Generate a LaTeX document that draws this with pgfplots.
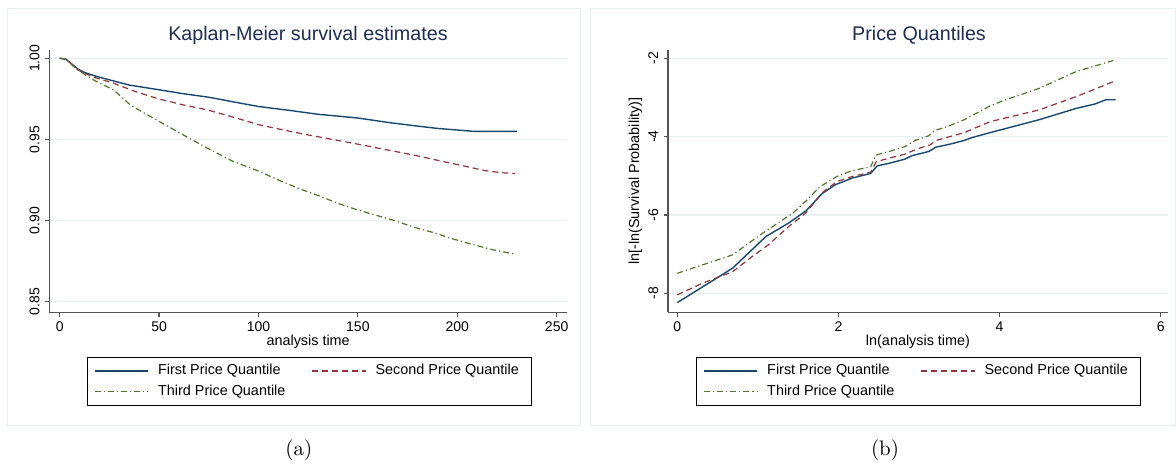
\documentclass[border=0pt]{standalone}
\usepackage{pgfplots}
\pgfplotsset{compat=1.18}
\usepackage{fontspec}
\newfontfamily\hv{Liberation Sans}
\definecolor{stnavy}{RGB}{26,71,111}
\definecolor{stmaroon}{RGB}{144,53,59}
\definecolor{stgreen}{RGB}{85,117,47}
\definecolor{stgrid}{RGB}{232,240,241}
\definecolor{sttitle}{RGB}{30,45,80}
\definecolor{staxis}{RGB}{85,85,85}

\pgfplotsset{
  statabase/.style={
    scale only axis, height=131.15pt,
    axis lines*=left,
    axis line style={-, draw=staxis, line width=0.6pt},
    tick align=outside, major tick length=2.2pt,
    major tick style={draw=staxis, line width=0.6pt},
    ymajorgrids, grid style={draw=stgrid, line width=0.6pt},
    tick label style={font=\hv\fontsize{7}{8}\selectfont, text=black},
    /pgf/number format/assume math mode=true,
    yticklabel style={rotate=90, anchor=south, inner sep=2.5pt},
    xticklabel style={inner sep=2.2pt},
    label style={font=\hv\fontsize{7.2}{8.6}\selectfont, text=black},
    xlabel style={at={(axis description cs:0.5,-0.113)}, anchor=center},
    legend cell align=left,
    legend image code/.code={\draw[##1] (0pt,0pt) -- (26.7pt,0pt);},
    legend style={anchor=north west, draw=black, line width=0.5pt,
      inner xsep=3.25pt, inner ysep=3.3pt,
      font=\hv\fontsize{7.2}{8.6}\selectfont,
      legend columns=2, row sep=3.55pt,
      nodes={inner sep=0pt, text height=5.3pt, text depth=1.5pt},
      /tikz/every odd column/.append style={column sep=4.7pt}},
  },
  s1/.style={stnavy, line width=0.7pt, solid},
  s2/.style={stmaroon, line width=0.6pt, dash pattern=on 3pt off 2pt},
  s3/.style={stgreen, line width=0.6pt, dash pattern=on 3pt off 1.5pt on 0.6pt off 1.5pt},
}

\pgfplotstableread{
t S
0 1.000
3 0.9995
6 0.9965
9 0.9935
12 0.9915
18 0.9890
25 0.9867
35 0.9835
50 0.9806
62 0.9782
75 0.9760
88 0.9730
100 0.9703
115 0.9680
130 0.9655
150 0.9632
165 0.9605
178 0.9585
190 0.9568
200 0.9558
208 0.9550
230 0.9550
}\kmA
\pgfplotstableread{
t S
0 1.000
3 0.9995
6 0.9965
9 0.9930
12 0.9910
18 0.9880
27 0.9847
38 0.9795
50 0.9749
62 0.9713
74 0.9683
88 0.9635
100 0.9591
110 0.9565
121 0.9537
135 0.9505
150 0.9471
165 0.9435
178 0.9404
197 0.9353
214 0.9308
222 0.9295
229 0.9290
}\kmB
\pgfplotstableread{
t S
0 1.000
3 0.9995
6 0.9960
8 0.9939
12 0.9905
18 0.9860
27 0.9806
36 0.9708
50 0.9611
61 0.9536
74 0.9448
87 0.9366
100 0.9305
111 0.9245
121.5 0.9192
131 0.9150
140 0.9106
150 0.9065
160 0.9030
169 0.8998
178 0.8960
188 0.8926
197 0.8890
207 0.8855
218 0.8820
229 0.8793
}\kmC

\pgfplotstableread{
x y
0 -8.238
0.686 -7.36
1.10 -6.55
1.38 -6.21
1.60 -5.89
1.80 -5.45
1.96 -5.23
2.17 -5.06
2.40 -4.94
2.48 -4.75
2.63 -4.68
2.82 -4.58
2.91 -4.49
3.12 -4.38
3.21 -4.27
3.37 -4.20
3.56 -4.10
3.65 -4.03
3.88 -3.90
4.49 -3.57
4.95 -3.28
5.18 -3.17
5.32 -3.06
5.44 -3.06
}\llA
\pgfplotstableread{
x y
0 -8.04
0.315 -7.74
0.686 -7.45
0.917 -7.08
1.126 -6.77
1.38 -6.30
1.59 -5.96
1.80 -5.43
1.98 -5.15
2.17 -5.02
2.40 -4.91
2.47 -4.64
2.63 -4.55
2.82 -4.45
3.00 -4.30
3.14 -4.21
3.21 -4.10
3.56 -3.90
3.88 -3.62
4.49 -3.32
4.95 -2.98
5.41 -2.60
}\llB
\pgfplotstableread{
x y
0 -7.49
0.686 -7.02
1.056 -6.47
1.43 -5.96
1.61 -5.62
1.77 -5.28
1.98 -5.02
2.17 -4.87
2.40 -4.77
2.47 -4.47
2.63 -4.38
2.82 -4.26
2.96 -4.09
3.12 -3.98
3.19 -3.85
3.37 -3.73
3.56 -3.57
3.88 -3.22
4.07 -3.06
4.25 -2.94
4.49 -2.77
4.95 -2.34
5.41 -2.06
}\llC

\begin{document}
\begin{tikzpicture}
\useasboundingbox (0pt,0pt) rectangle (588pt,-232.5pt);
\fill[white] (0pt,0pt) rectangle (588pt,-232.5pt);
\draw[stgrid, line width=0.5pt] (3.5pt,-4.5pt) rectangle (290pt,-212.5pt);
\draw[stgrid, line width=0.5pt] (295pt,-4.5pt) rectangle (587.7pt,-212.5pt);

\begin{axis}[statabase,
  at={(24.65pt,-156.15pt)}, anchor=south west, width=258.85pt,
  xmin=-5.23, xmax=255.2, ymin=0.8435, ymax=1.0051,
  xtick={0,50,100,150,200,250},
  ytick={0.85,0.90,0.95,1.00}, yticklabels={0.85,0.90,0.95,1.00},
  xlabel={analysis time},
  legend style={at={(0.0728,-0.1704)}},
]
\addplot[s1] table[x=t,y=S] {\kmA};
\addlegendentry{\makebox[76.7pt][l]{First Price Quantile}}
\addplot[s2] table[x=t,y=S] {\kmB};
\addlegendentry{\makebox[74.8pt][l]{Second Price Quantile}}
\addplot[s3] table[x=t,y=S] {\kmC};
\addlegendentry{Third Price Quantile}
\end{axis}

\begin{axis}[statabase,
  at={(334pt,-156.15pt)}, anchor=south west, width=250pt,
  xmin=-0.115, xmax=6.09, ymin=-8.485, ymax=-1.79,
  xtick={0,2,4,6},
  ytick={-8,-6,-4,-2}, yticklabels={-8,-6,-4,-2},
  xlabel={ln(analysis time)},
  ylabel={ln[-ln(Survival Probability)]},
  ylabel style={at={(axis description cs:-0.0654,0.5)}, anchor=center},
  legend style={at={(0.056,-0.1704)}},
]
\addplot[s1] table[x=x,y=y] {\llA};
\addlegendentry{\makebox[76.7pt][l]{First Price Quantile}}
\addplot[s2] table[x=x,y=y] {\llB};
\addlegendentry{\makebox[74.8pt][l]{Second Price Quantile}}
\addplot[s3] table[x=x,y=y] {\llC};
\addlegendentry{Third Price Quantile}
\end{axis}

\node[font=\hv\fontsize{9.86}{12}\selectfont, text=sttitle] at (154pt,-17.5pt) {Kaplan-Meier survival estimates};
\node[font=\hv\fontsize{9.86}{12}\selectfont, text=sttitle] at (459.5pt,-17.5pt) {Price Quantiles};
\node[font=\fontsize{10.5}{12}\selectfont] at (149.4pt,-225pt) {(a)};
\node[font=\fontsize{10.5}{12}\selectfont] at (442.5pt,-225pt) {(b)};
\end{tikzpicture}
\end{document}
